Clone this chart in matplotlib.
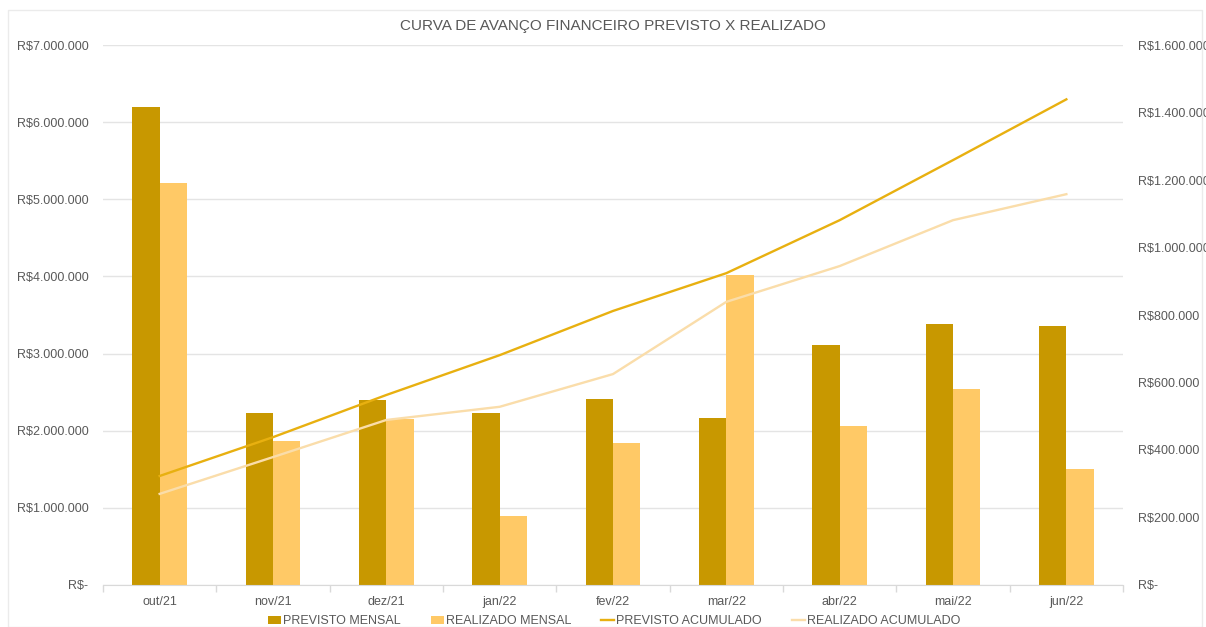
import matplotlib
matplotlib.use("Agg")
import matplotlib.pyplot as plt
import numpy as np
from matplotlib.ticker import FuncFormatter, MultipleLocator
from matplotlib.patches import Rectangle

plt.rcParams['font.family'] = ['Liberation Sans', 'DejaVu Sans']

meses = ["out/21", "nov/21", "dez/21", "jan/22", "fev/22", "mar/22", "abr/22", "mai/22", "jun/22"]
previsto_mensal = [6200000, 2230000, 2400000, 2235000, 2415000, 2160000, 3110000, 3380000, 3360000]
realizado_mensal = [5210000, 1870000, 2150000, 890000, 1845000, 4020000, 2060000, 2540000, 1500000]
previsto_acumulado = [323000, 438000, 563000, 681000, 812000, 924000, 1081000, 1259000, 1439000]
realizado_acumulado = [270000, 379000, 489000, 528000, 625000, 839000, 945000, 1081000, 1158000]

c_prev_bar = "#C89800"
c_real_bar = "#FFC966"
c_prev_line = "#E8B010"
c_real_line = "#FADDAA"
txt = "#595959"
grid = "#E4E4E4"


def fmt_brl(v, pos=None):
    if abs(v) < 1e-6:
        return "R$-"
    s = f"{int(round(v)):,}".replace(",", ".")
    return "R$" + s


fig = plt.figure(figsize=(12.06, 6.27), dpi=100)
fig.patches.append(Rectangle((0.007, 0.0), 0.99, 0.984, transform=fig.transFigure,
                             fill=False, edgecolor="#EBEBEB", linewidth=1))
ax = fig.add_axes([0.0854, 0.067, 0.8458, 0.8612])
ax2 = ax.twinx()

x = np.arange(len(meses))
w = 0.24
ax.bar(x - w / 2, previsto_mensal, width=w, color=c_prev_bar, label="PREVISTO MENSAL", zorder=2)
ax.bar(x + w / 2, realizado_mensal, width=w, color=c_real_bar, label="REALIZADO MENSAL", zorder=2)

ax2.plot(x, previsto_acumulado, color=c_prev_line, lw=1.7, label="PREVISTO ACUMULADO")
ax2.plot(x, realizado_acumulado, color=c_real_line, lw=1.7, label="REALIZADO ACUMULADO")

ax.set_xlim(-0.5, len(meses) - 0.5)
ax.set_ylim(0, 7000000)
ax2.set_ylim(0, 1600000)
ax.yaxis.set_major_locator(MultipleLocator(1000000))
ax2.yaxis.set_major_locator(MultipleLocator(200000))
ax.yaxis.set_major_formatter(FuncFormatter(fmt_brl))
ax2.yaxis.set_major_formatter(FuncFormatter(fmt_brl))

ax.set_xticks(x)
ax.set_xticklabels(meses)
ax.set_xticks(np.arange(-0.5, len(meses), 1.0), minor=True)
ax.tick_params(axis="x", which="major", length=0, pad=8, labelsize=9, labelcolor=txt)
ax.tick_params(axis="x", which="minor", length=5, color="#D9D9D9", width=1)
ax.tick_params(axis="y", length=0, pad=10.5, labelsize=9, labelcolor=txt)
ax2.tick_params(axis="y", length=0, pad=10.5, labelsize=9, labelcolor=txt)

ax.grid(axis="y", color=grid, lw=1, zorder=0)
ax.set_axisbelow(True)
for a in (ax, ax2):
    for s in ("top", "left", "right"):
        a.spines[s].set_visible(False)
    a.spines["bottom"].set_color("#D9D9D9")
ax2.spines["bottom"].set_visible(False)

fig.text(0.508, 0.958, "CURVA DE AVANÇO FINANCEIRO PREVISTO X REALIZADO",
         ha="center", va="center", fontsize=11, color=txt)

h1, l1 = ax.get_legend_handles_labels()
h2, l2 = ax2.get_legend_handles_labels()
leg = fig.legend(h1 + h2, l1 + l2, loc="center", bbox_to_anchor=(0.5095, 0.009), ncol=4,
                 frameon=False, fontsize=9, handlelength=1.0, handleheight=0.55,
                 handletextpad=0.2, columnspacing=2.4, borderaxespad=0)
for t in leg.get_texts():
    t.set_color(txt)

fig.savefig("out.png", dpi=100)
